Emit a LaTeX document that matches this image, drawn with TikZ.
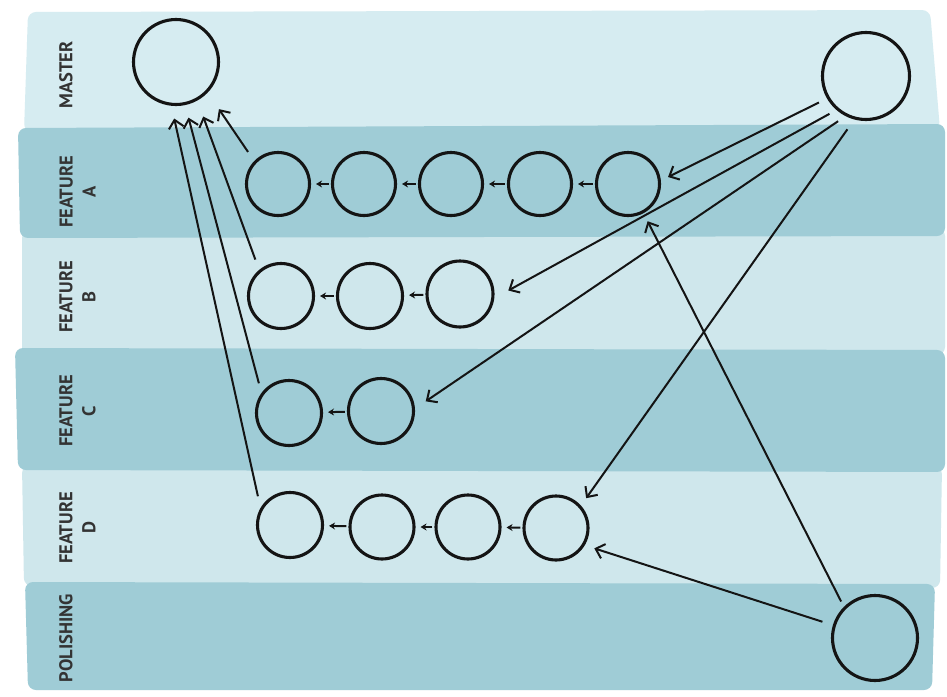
\documentclass[tikz,border=0pt]{standalone}
\usepackage{fontspec}
\setmainfont{PT Sans}
\usetikzlibrary{arrows.meta}
\definecolor{lightband}{HTML}{CFE7EC}
\definecolor{paleband}{HTML}{D6ECF1}
\definecolor{darkband}{HTML}{9FCCD6}
\definecolor{ink}{HTML}{141414}
\definecolor{labelink}{HTML}{333333}
\begin{document}
\begin{tikzpicture}[x=1pt,y=-1pt,
  commit/.style={circle,draw=ink,line width=3.1pt,minimum size=63pt,inner sep=0pt},
  bigcommit/.style={commit,minimum size=85pt},
  lanelabel/.style={rotate=90,align=center,font=\bfseries\fontsize{18.5}{23}\selectfont,text=labelink},
  link/.style={draw=ink,line width=2pt,-{Stealth[length=6pt,width=7pt]},shorten >=5pt,shorten <=2pt},
  merge/.style={draw=ink,line width=2pt,-{Straight Barb[length=8pt,width=15pt,line width=2pt]}},
  lane/.style={rounded corners=8pt}
]
\useasboundingbox (0,0) rectangle (947,696);
\fill[white] (0,0) rectangle (947,696);
% bands
\fill[paleband,lane] (28,12) -- (930,10) -- (940,130) -- (24,132) -- cycle;
\fill[lightband,lane] (22,230) -- (945,228) -- (945,355) -- (22,356) -- cycle;
\fill[lightband,lane] (22,465) -- (942,466) -- (940,588) -- (24,586) -- cycle;
\fill[darkband,lane] (18,128) -- (945,124) -- (945,236) -- (20,238) -- cycle;
\fill[darkband,lane] (15,348) -- (945,350) -- (945,472) -- (18,470) -- cycle;
\fill[darkband,lane] (25,582) -- (935,584) -- (932,690) -- (28,690) -- cycle;
% labels
\node[lanelabel] (lm) at (66,75) {MASTER};
\node[lanelabel] (la) at (77.5,192) {FEATURE\\A};
\node[lanelabel] (lb) at (77.5,297) {FEATURE\\B};
\node[lanelabel] (lc) at (77.5,411) {FEATURE\\C};
\node[lanelabel] (ld) at (77.5,528) {FEATURE\\D};
\node[lanelabel] (lp) at (66,638) {POLISHING};
% commits
\node[bigcommit] (ml) at (176,62) {};
\node[bigcommit,minimum size=87pt] (mr) at (866,76) {};
\node[bigcommit] (p) at (875,638) {};
\node[commit] (a1) at (278,184) {};
\node[commit] (a2) at (364,184) {};
\node[commit] (a3) at (451,184) {};
\node[commit] (a4) at (540,184) {};
\node[commit] (a5) at (628,184) {};
\node[commit,minimum size=65pt] (b1) at (281,296) {};
\node[commit,minimum size=65pt] (b2) at (370,296) {};
\node[commit,minimum size=66pt] (b3) at (460,294) {};
\node[commit,minimum size=65pt] (c1) at (289,413) {};
\node[commit,minimum size=65pt] (c2) at (381,411) {};
\node[commit,minimum size=65pt] (d1) at (290,525) {};
\node[commit,minimum size=64pt] (d2) at (382,527) {};
\node[commit,minimum size=64pt] (d3) at (468,527) {};
\node[commit,minimum size=64pt] (d4) at (556,528) {};
% parent links
\draw[link] (a2) -- (a1);
\draw[link] (a3) -- (a2);
\draw[link] (a4) -- (a3);
\draw[link] (a5) -- (a4);
\draw[link] (b2) -- (b1);
\draw[link] (b3) -- (b2);
\draw[link] (c2) -- (c1);
\draw[link] (d2) -- (d1);
\draw[link] (d3) -- (d2);
\draw[link] (d4) -- (d3);
% merges into master
\draw[merge,shorten <=11pt,shorten >=20pt] (a1.136) -- (ml.316);
\draw[merge,shorten <=11pt,shorten >=17pt] (b1.130) -- (ml.299);
\draw[merge,shorten <=10pt,shorten >=13pt] (c1.144) -- (ml.282);
\draw[merge,shorten <=12pt,shorten >=13pt] (d1.150) -- (ml.264);
% branches from master
\draw[merge,shorten <=9pt,shorten >=8pt] (mr.210) -- (a5.6);
\draw[merge,shorten <=8pt,shorten >=16pt] (mr.229) -- (b3.-7);
\draw[merge,shorten <=9pt,shorten >=13pt] (mr.243) -- (c2.4);
\draw[merge,shorten <=12pt,shorten >=9pt] (mr.255) -- (d4.42);
% polishing
\draw[merge,shorten <=6pt,shorten >=9pt] (p.135) -- (a5.-62);
\draw[merge,shorten <=11pt,shorten >=10pt] (p.163) -- (d4.-31);
\end{tikzpicture}
\end{document}
